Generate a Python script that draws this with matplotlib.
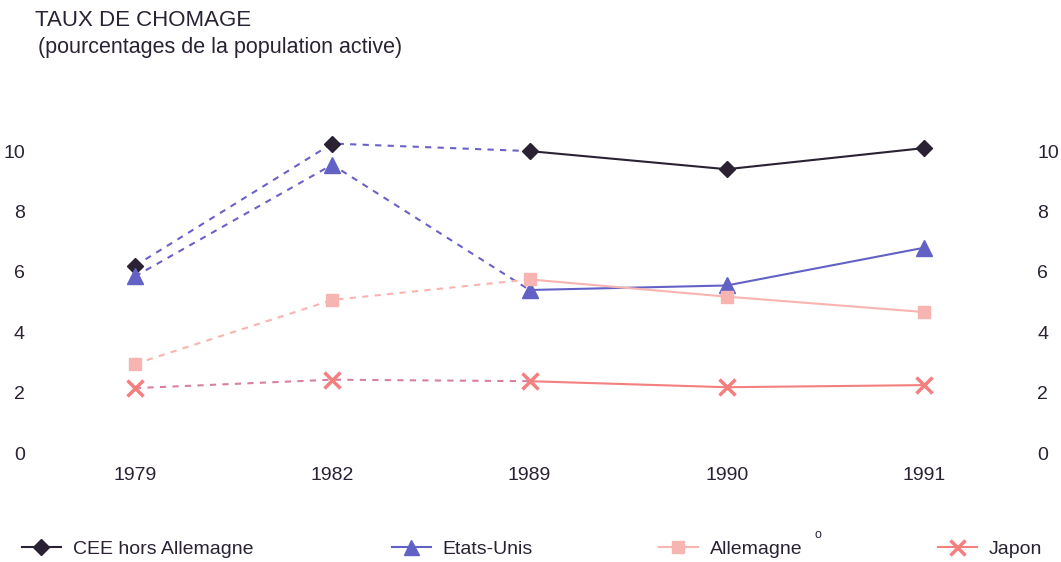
import numpy as np
import matplotlib
matplotlib.use('Agg')
import matplotlib.pyplot as plt
from matplotlib.lines import Line2D

plt.rcParams['font.family'] = ['Liberation Sans', 'DejaVu Sans']

years = ['1979', '1982', '1989', '1990', '1991']
cee = [6.2, 10.25, 10.0, 9.4, 10.1]
usa = [5.85, 9.55, 5.4, 5.55, 6.8]
allemagne = [2.95, 5.07, 5.75, 5.18, 4.67]
japon = [2.15, 2.43, 2.38, 2.18, 2.25]
yticks = [0, 2, 4, 6, 8, 10]

txt = '#2a2233'
series = [
    # label, values, marker, colour, dashed colour, marker size, mew
    ('CEE hors Allemagne', cee, 'D', '#2a2233', '#6a62c8', 8.5, 1),
    ('Etats-Unis', usa, '^', '#6262c6', '#6a62c8', 12, 1),
    ('Allemagne', allemagne, 's', '#f8b4b0', '#f8b4b0', 9, 1),
    ('Japon', japon, 'x', '#f47f7f', '#d880a0', 12, 2.5),
]

W, H = 1061, 562
fig = plt.figure(figsize=(W / 100, H / 100), dpi=100)
fig.patch.set_facecolor('white')

# axes in pixel terms: left 45, right 1015, top 120, bottom 460
ax = fig.add_axes([45 / W, 1 - 460 / H, 970 / W, 340 / H])
x = np.arange(len(years))

handles = []
for label, vals, mk, col, dcol, ms, mew in series:
    ax.plot(x[:3], vals[:3], color=dcol, lw=1.5, ls=(0, (3, 3)), zorder=2)
    ax.plot(x[2:], vals[2:], color=col, lw=1.5, zorder=2)
    ax.plot(x, vals, ls='none', marker=mk, ms=ms, color=col, mew=mew,
            mec=col, zorder=3)
    handles.append(Line2D([0], [0], color=col, lw=1.5, marker=mk,
                          ms=ms * 0.9, mew=mew, mec=col, label=label))

ax.set_xlim(-0.456, 4.461)
ax.set_ylim(-0.23, 11.03)
ax.set_xticks(x)
ax.set_xticklabels(years)
ax.set_yticks(yticks)
ax.tick_params(length=0, labelsize=14, labelcolor=txt)
ax.tick_params(axis='y', pad=14.5)
ax.tick_params(axis='x', pad=5)
for sp in ax.spines.values():
    sp.set_visible(False)
ax.set_facecolor('white')

# right-hand scale, same values
ax2 = ax.twinx()
ax2.set_ylim(ax.get_ylim())
ax2.set_yticks(yticks)
ax2.tick_params(length=0, labelsize=14, labelcolor=txt, pad=16)
for sp in ax2.spines.values():
    sp.set_visible(False)

fig.text(35 / W, 1 - 20 / H, 'TAUX DE CHOMAGE', fontsize=16, color=txt,
         ha='left', va='center')
fig.text(38 / W, 1 - 48 / H, '(pourcentages de la population active)',
         fontsize=15.5, color=txt, ha='left', va='center')

# legend, one entry at a time to follow the uneven spacing
leg_x = [22, 392, 659, 938]
for h, lx in zip(handles, leg_x):
    lg = fig.legend(handles=[h], loc='center left',
                    bbox_to_anchor=(lx / W, 1 - 549 / H), frameon=False,
                    fontsize=14, handlelength=2.0, handletextpad=0.6,
                    borderpad=0, borderaxespad=0)
    for t in lg.get_texts():
        t.set_color(txt)
fig.text(818 / W, 1 - 535 / H, 'o', fontsize=9, color=txt, ha='center',
         va='center')

fig.savefig('out.png', dpi=100, facecolor='white')
